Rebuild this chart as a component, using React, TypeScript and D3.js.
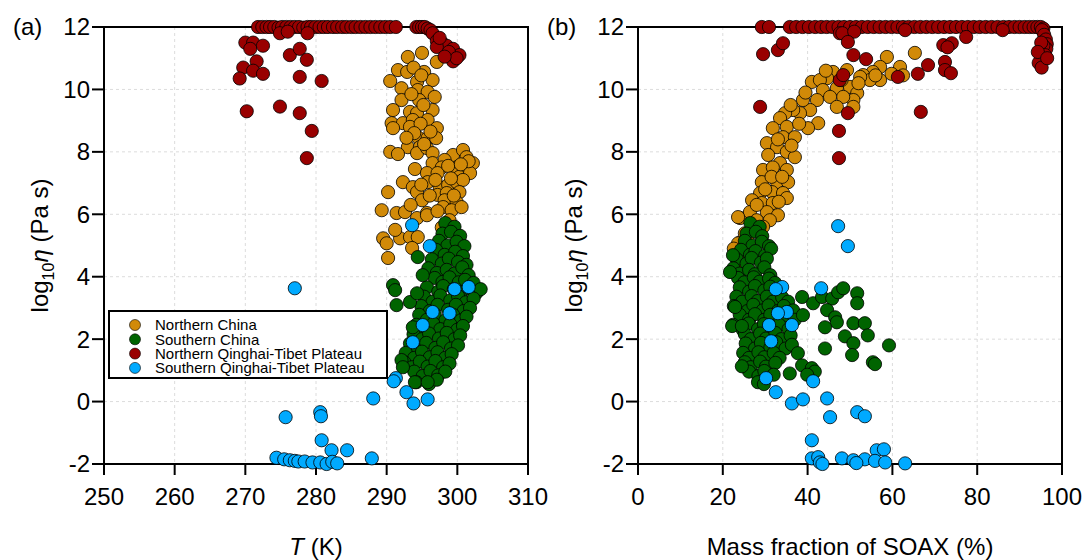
import React from "react";
import * as d3 from "d3";

// Series colours, in legend order
const seriesNames = [
  "Northern China",
  "Southern China",
  "Northern Qinghai-Tibet Plateau",
  "Southern Qinghai-Tibet Plateau",
];
const seriesColors = ["#d18a08", "#006400", "#990000", "#00aaff"];

const yTicks = [-2, 0, 2, 4, 6, 8, 10, 12];
const tTicks = [250, 260, 270, 280, 290, 300, 310];
const soaxTicks = [0, 20, 40, 60, 80, 100];

type Pt = [number, number];

// ---------- panel (a): T (K) vs log10 eta ----------
const northChinaT: Pt[] = [
  [293, 11.04], [295, 11.17], [297.1, 10.88], [291.6, 10.62], [290.5, 10.27], [292.9, 10.56],
  [295.3, 10.56], [296.5, 10.3], [294.3, 10.24], [292.1, 10.04], [294.4, 9.98], [295.8, 9.92],
  [296.8, 9.76], [292.1, 9.66], [294.6, 9.66], [290.9, 9.34], [293.3, 9.28], [294.3, 9.24],
  [296.5, 9.34], [290.7, 8.92], [292.3, 8.92], [293.7, 9.02], [295.8, 9.02], [290.9, 8.76],
  [293.3, 8.8], [297.1, 8.76], [294.4, 8.47], [295.8, 8.44], [297, 8.44], [293, 8.15],
  [294.7, 8.15], [290.5, 8], [291.6, 7.93], [294.3, 7.96], [295.7, 8.12], [296.5, 7.96],
  [299.4, 7.9], [300.8, 8.06], [302.2, 7.64], [301.3, 7.83], [299.9, 7.5], [301.1, 7.42],
  [300.3, 7.2], [301.8, 7.32], [294, 7.45], [296.5, 7.64], [298.2, 7.74], [297.8, 7.5],
  [295.7, 7.32], [297.2, 7.32], [292.3, 7.03], [293.7, 6.87], [295.8, 7.03], [297.5, 6.87],
  [298.7, 6.94], [299.9, 7.03], [300.8, 7.1], [290.2, 6.71], [294.3, 6.71], [297.2, 6.62],
  [298.5, 6.68], [300.3, 6.71], [295, 6.45], [298.2, 6.45], [299.9, 6.39], [289.3, 6.13],
  [291.4, 6.04], [292.6, 6.07], [294.3, 5.88], [295.7, 6.04], [298, 6.23], [299.2, 6.13],
  [300.6, 6.23], [298.9, 5.81], [289.5, 5.23], [290, 5.07], [291.9, 5.23], [293.3, 5.27],
  [294.4, 5.27], [293.6, 4.92], [290.2, 4.6], [297.8, 5.58], [295.7, 5.97], [293.8, 10.7],
  [294.9, 10.45], [293.5, 9.85], [295.2, 9.5], [294.8, 8.9], [296.2, 8.65], [293.9, 8.6],
  [292.8, 8.45], [295.3, 8.25], [298.7, 7.55], [299.1, 7.15], [301.6, 7.7], [300.5, 7.6],
  [296.9, 7.1], [294.9, 6.95], [296.1, 6.6], [299.5, 6.6], [297.2, 6.1], [293.4, 6.3],
  [291.2, 5.5],
];

const southChinaT: Pt[] = [
  [298.3, 5.72], [299.6, 5.6], [297.9, 5.38], [299.1, 5.44], [300.4, 5.31],
  [297.4, 5.15], [298.6, 5.0], [299.9, 5.12], [301.0, 4.98],
  [297.0, 4.86], [298.2, 4.7], [299.7, 4.8], [300.8, 4.66],
  [296.4, 4.56], [297.8, 4.42], [298.8, 4.58], [300.1, 4.47], [301.3, 4.38],
  [295.9, 4.27], [297.1, 4.12], [298.5, 4.22], [299.6, 4.1], [300.7, 4.3], [301.6, 4.05],
  [296.8, 3.96], [297.9, 3.83], [298.9, 3.98], [300.2, 3.82], [301.1, 3.9], [302.3, 3.8],
  [295.7, 3.66], [297.3, 3.52], [298.0, 3.7], [299.5, 3.6], [300.5, 3.5], [301.7, 3.62], [302.7, 3.48], [303.3, 3.6],
  [295.3, 3.36], [296.5, 3.2], [297.6, 3.4], [299.0, 3.24], [300.1, 3.38], [301.2, 3.18], [302.3, 3.3],
  [294.9, 3.06], [296.1, 2.9], [297.2, 3.1], [298.7, 2.94], [299.8, 3.1], [300.9, 2.9], [301.8, 3.0],
  [294.6, 2.78], [295.7, 2.62], [296.8, 2.8], [298.3, 2.6], [299.4, 2.78], [300.5, 2.6], [301.3, 2.72],
  [294.2, 2.46], [295.4, 2.3], [296.6, 2.5], [297.6, 2.32], [299.0, 2.48], [300.0, 2.3], [300.8, 2.42],
  [293.8, 2.16], [295.0, 2.0], [296.0, 2.18], [297.4, 2.02], [298.5, 2.2], [299.6, 2.0], [300.4, 2.12],
  [293.3, 1.86], [294.4, 1.7], [295.6, 1.88], [296.9, 1.72], [298.0, 1.9], [299.1, 1.7], [300.1, 1.8],
  [292.7, 1.56], [293.9, 1.4], [295.0, 1.6], [296.1, 1.42], [297.2, 1.58], [298.3, 1.4], [299.2, 1.52],
  [292.5, 1.26], [293.6, 1.1], [294.7, 1.28], [295.8, 1.12], [296.9, 1.3], [298.0, 1.1], [298.9, 1.22],
  [293.9, 0.96], [295.1, 0.82], [296.2, 0.98], [297.3, 0.84], [298.3, 0.96],
  [294.2, 0.62], [296.0, 0.56], [297.1, 0.7],
  [290.9, 3.73], [291.2, 3.57], [291.4, 3.09], [293.3, 3.19], [294.3, 3.47], [294.4, 4.63],
  [295.1, 4.05], [292.1, 1.33], [292.3, 1.1], [294, 0.62], [295.8, 0.62], [293.7, 2.38],
];

const northQtpT: Pt[] = [
  [271.8, 12], [272.4, 12], [273, 12], [273.5, 12], [274.1, 12], [274.7, 11.98], [275.2, 12],
  [275.8, 12], [276.4, 12], [277, 12], [277.6, 12], [278.2, 11.98], [278.8, 12], [279.3, 12],
  [279.9, 12], [280.5, 12], [281.1, 12], [281.7, 12], [282.4, 12], [283, 12], [283.7, 12],
  [284.3, 12], [285, 12], [285.6, 12], [286.3, 12], [287, 12], [287.7, 12], [288.4, 12],
  [289.1, 12], [289.8, 12], [290.5, 12], [291.3, 12], [294.2, 12], [294.6, 12], [295, 12],
  [295.4, 12], [295.8, 11.95], [296.2, 11.9],
  [274.9, 11.8], [278.8, 11.8], [276, 11.85],
  [296.5, 11.8], [297.1, 11.55], [297.8, 11.5], [298.5, 11.4], [299.4, 11.3], [300.3, 11.1],
  [299.4, 10.9], [297.1, 11.36], [298.8, 11.2], [299.9, 11.0], [297.5, 11.65], [298.2, 11.05],
  [270, 11.5], [271.1, 11.5], [270.7, 11.3], [272.5, 11.4], [269.7, 10.7], [271.6, 10.9],
  [271.1, 10.6], [272.5, 10.5], [269.2, 10.35], [270.2, 9.3], [274.9, 9.45], [277.7, 9.24],
  [276.3, 11.1], [277.7, 11.3], [278.7, 10.95], [277.7, 10.4], [280.8, 10.27], [279.4, 8.67],
  [278.7, 7.8],
];

const southQtpT: Pt[] = [
  [293.6, 5.65], [296.1, 4.98], [277, 3.63], [299.6, 3.6], [301.6, 3.67], [296.5, 2.87],
  [298.9, 2.83], [295.1, 2.45], [293.7, 1.9], [291.3, 0.75], [291, 0.65], [292.8, 0.3],
  [293.8, -0.06], [295.8, 0.07], [288.1, 0.1], [275.7, -0.5], [280.6, -0.34], [280.7, -0.47],
  [280.8, -1.24], [282.2, -1.56], [284.4, -1.56], [287.9, -1.82], [274.4, -1.8], [275.5, -1.85],
  [276.3, -1.88], [277, -1.9], [277.5, -1.92], [278.4, -1.92], [279.5, -1.95], [280.6, -1.95],
  [281.5, -2.0], [282.3, -1.93], [283, -1.98],
];

// ---------- panel (b): mass fraction of SOAX (%) vs log10 eta ----------
const northChinaS: Pt[] = [
  [65.3, 11.17], [58.7, 11.04], [61.8, 10.72], [57.1, 10.72], [55.4, 10.56], [53.1, 10.46],
  [57.1, 10.3], [54.7, 10.3], [52.4, 10.4], [49.3, 10.62], [46, 10.56], [44.6, 10.36],
  [41, 10.24], [42.9, 10.3], [43.6, 9.98], [46.9, 10.04], [50, 10.08], [51.7, 9.88],
  [50.8, 9.66], [50.8, 9.44], [48.4, 9.76], [45.3, 9.76], [46.9, 9.44], [42.2, 9.66],
  [40.6, 9.34], [38.9, 9.66], [38.2, 9.24], [42.5, 8.92], [40.1, 8.76], [36.6, 9.34],
  [34.7, 9.24], [33.5, 9.08], [35.1, 8.8], [31.8, 8.76], [34.2, 8.47], [37, 8.47],
  [30.4, 8.28], [32.8, 8.15], [35.1, 8], [37, 7.83], [30.7, 7.9], [33.5, 7.64],
  [29.5, 7.42], [31.8, 7.5], [35.1, 7.42], [29.2, 7.03], [32.8, 7.03], [35.4, 7.03],
  [28.8, 6.68], [31.6, 6.71], [34.2, 6.68], [35.1, 6.52], [26.9, 6.45], [29.2, 6.36],
  [31.8, 6.36], [24.1, 5.88], [26.4, 6.07], [30.4, 6.07], [33, 5.97], [28, 5.81],
  [31.1, 5.81], [24.1, 5.1], [26.4, 5.39], [23.6, 5.91], [23.6, 5.07], [25.2, 5.39],
  [26, 4.85], [25.2, 4.6], [24, 4.3], [22.6, 4.9], [36, 9.5], [39.5, 9.9],
  [44.3, 10.6], [48, 10.3], [52, 10.2], [56, 10.45], [59.8, 10.5], [62.5, 10.45],
  [38, 8.9], [33, 8.4], [36.2, 8.2], [31.5, 7.2], [34, 7.2], [30, 6.8],
  [28, 6.3], [33.2, 6.4], [27.8, 5.5], [29.5, 5.6],
];

const southChinaS: Pt[] = [
  [26.5, 5.72], [28.7, 5.6], [25.6, 5.38], [27.8, 5.44], [29.3, 5.3],
  [25.2, 5.15], [27.0, 5.0], [29.2, 5.12], [30.9, 4.98],
  [24.3, 4.86], [26.4, 4.7], [27.7, 4.82], [30.0, 4.68], [31.4, 4.9],
  [23.3, 4.56], [25.6, 4.42], [26.8, 4.6], [29.0, 4.45], [30.4, 4.58],
  [22.5, 4.27], [24.0, 4.1], [26.2, 4.22], [27.6, 4.08], [29.8, 4.3], [31.2, 4.05],
  [23.6, 3.96], [25.1, 3.82], [27.3, 3.98], [28.7, 3.84], [30.9, 3.94], [32.3, 3.8],
  [24.0, 3.66], [26.2, 3.52], [27.6, 3.7], [29.8, 3.56], [31.2, 3.68], [33.4, 3.5],
  [23.2, 3.36], [24.6, 3.2], [26.8, 3.38], [28.2, 3.22], [30.4, 3.36], [31.8, 3.2], [34.0, 3.34], [35.4, 3.2],
  [22.6, 3.06], [25.8, 2.9], [27.2, 3.1], [29.4, 2.92], [30.8, 3.08], [33.0, 2.9], [34.4, 3.06], [36.6, 2.92],
  [24.0, 2.78], [26.2, 2.62], [27.6, 2.8], [29.8, 2.62], [31.2, 2.78], [33.4, 2.6], [34.8, 2.76], [37.0, 2.62],
  [22.4, 2.46], [24.7, 2.3], [26.1, 2.5], [28.3, 2.32], [29.7, 2.48], [31.9, 2.3], [33.3, 2.46], [35.5, 2.32],
  [25.2, 2.16], [26.6, 2.0], [28.8, 2.18], [30.2, 2.02], [32.4, 2.2], [33.8, 2.0], [36.0, 2.12],
  [25.4, 1.86], [27.6, 1.7], [29.0, 1.88], [31.2, 1.72], [32.6, 1.9], [34.8, 1.7], [36.3, 1.82],
  [24.8, 1.56], [26.2, 1.4], [28.4, 1.58], [29.8, 1.42], [32.0, 1.56], [33.4, 1.4],
  [25.2, 1.26], [26.6, 1.1], [28.8, 1.28], [30.2, 1.12], [32.4, 1.24],
  [26.2, 0.96], [28.4, 0.82], [29.8, 0.98], [32.0, 0.86],
  [28.3, 0.62], [29.7, 0.56],
  [38.7, 3.35], [41.3, 3.15], [43.4, 3.35], [45.8, 3.3], [47.2, 3.5], [48.4, 3.63],
  [51.7, 3.47], [51.7, 3.15], [44.6, 2.93], [46.5, 2.7], [46.9, 2.54], [44.1, 2.38],
  [38.9, 2.77], [50.8, 2.51], [53.5, 2.51], [48.8, 2.09], [50.8, 1.87], [54.2, 2.12],
  [44.1, 1.7], [50.5, 1.49], [55.4, 1.26], [55.9, 1.2], [59.2, 1.8], [37.7, 1.55],
  [38.7, 1.16], [41, 1.07], [41.7, 0.96], [39.9, 0.86], [35.8, 0.9],
  [21.7, 4.15], [22.4, 4.69], [22.9, 3.03], [22.2, 2.42], [24.5, 2.42], [24.5, 1.13],
];

const northQtpS: Pt[] = [
  [29.2, 12], [30.9, 12], [35.8, 12], [37.3, 12], [38.8, 12], [40.3, 12], [41.8, 12],
  [43.2, 12], [44.5, 12], [45.9, 12], [47.3, 12], [48.6, 12], [50, 12], [51.4, 12],
  [52.8, 12], [54.2, 12], [55.6, 12], [57, 12], [58.4, 12], [59.8, 12], [61.2, 12],
  [62.5, 12], [63.8, 12], [65.2, 12], [66.6, 12], [68, 12], [69.4, 12], [70.8, 12],
  [72.2, 12], [73.6, 12], [75, 12], [76.4, 12], [77.8, 12], [79.2, 12], [80.6, 12],
  [82, 12], [83.4, 12], [84.8, 12], [86.2, 12], [87.5, 12], [88.8, 12], [90, 12],
  [91.2, 12], [92.3, 12], [93.3, 12], [94.2, 12], [95, 12], [95.6, 11.95],
  [47.6, 11.8], [77.4, 11.68], [48.2, 11.8], [51, 11.85], [63, 11.9], [86, 11.9],
  [29.5, 11.13], [33, 11.26], [34.2, 11.48], [28.8, 9.44], [47.6, 10.3], [48.4, 10.46],
  [49.5, 9.24], [47.4, 8.67], [47.4, 7.8], [49.5, 11.52], [50.8, 11.1], [53.8, 10.97],
  [61.3, 10.4], [66, 10.5], [68.4, 10.78], [66.7, 9.28], [72, 11.42], [74, 11.48],
  [72.4, 10.88], [72.4, 10.62], [73.8, 10.52], [73, 11.35],
  [95.3, 11.9], [95.8, 11.75], [96.2, 11.6], [96.4, 11.45], [96.3, 11.3], [95.6, 11.4],
  [95.1, 11.5], [96, 11.1], [95.5, 10.95], [94.5, 10.85], [95.2, 10.7], [94.3, 11.2],
  [96.5, 11.0],
];

const southQtpS: Pt[] = [
  [47.2, 5.62], [49.5, 4.98], [34, 3.67], [32.5, 3.6], [43.2, 3.63], [35.1, 2.87],
  [33, 2.83], [36.3, 2.45], [30.9, 2.45], [31.4, 1.93], [30.2, 0.75], [41.3, 0.65],
  [32.5, 0.3], [36.3, -0.06], [38.9, 0.07], [44.6, 0.1], [45.3, -0.5], [51.7, -0.34],
  [53.5, -0.47], [41, -1.24], [41, -1.82], [42.5, -1.78], [42.9, -1.95], [48.1, -1.82],
  [50.8, -1.88], [53.5, -1.85], [56.3, -1.56], [58, -1.53], [55.9, -1.9], [58.3, -1.95],
  [63, -1.98], [51.5, -1.97], [43.5, -2.0],
];

const W = 1089;
const H = 560;
const TOP = 27;
const BOTTOM = 464;
const FONT = "'Liberation Sans', Arial, Helvetica, sans-serif";

const y = d3.scaleLinear().domain([-2, 12]).range([BOTTOM, TOP]);
const xT = d3.scaleLinear().domain([250, 310]).range([104, 528]);
const xS = d3.scaleLinear().domain([0, 100]).range([638, 1062]);

const Panel = ({ x, ticks, tag, title, series, legend }) => {
  const [x0, x1] = x.range();
  const cx = (x0 + x1) / 2;
  return (
    <g>
      {/* rejilla */}
      {ticks.slice(1, -1).map((t) => (
        <line key={"gx" + t} x1={x(t)} x2={x(t)} y1={TOP} y2={BOTTOM}
          stroke="#dcdcdc" strokeDasharray="3,3" />
      ))}
      {yTicks.slice(1, -1).map((t) => (
        <line key={"gy" + t} x1={x0} x2={x1} y1={y(t)} y2={y(t)}
          stroke="#dcdcdc" strokeDasharray="3,3" />
      ))}
      <rect x={x0} y={TOP} width={x1 - x0} height={BOTTOM - TOP}
        fill="none" stroke="#000" strokeWidth={2} />
      {/* ticks */}
      {ticks.map((t) => (
        <g key={"tx" + t}>
          <line x1={x(t)} x2={x(t)} y1={BOTTOM} y2={BOTTOM + 11} stroke="#000" strokeWidth={2} />
          <text x={x(t)} y={505} textAnchor="middle" fontSize={24}>{t}</text>
        </g>
      ))}
      {yTicks.map((t) => (
        <g key={"ty" + t}>
          <line x1={x0 - 12} x2={x0} y1={y(t)} y2={y(t)} stroke="#000" strokeWidth={2} />
          <text x={x0 - 14} y={y(t)} dy="0.35em" textAnchor="end" fontSize={24}>{t}</text>
        </g>
      ))}
      <text x={x0 - 91} y={y(12)} dy="0.35em" fontSize={24}>{tag}</text>
      <text transform={`translate(${x0 - 56},${(TOP + BOTTOM) / 2}) rotate(-90)`}
        textAnchor="middle" fontSize={24}>
        log<tspan fontSize={16} dy={6}>10</tspan>
        <tspan dy={-6} fontStyle="italic">η</tspan> (Pa s)
      </text>
      <text x={cx} y={555} textAnchor="middle" fontSize={24}>{title}</text>
      {/* puntos */}
      {series.map((pts, i) => (
        <g key={"s" + i}>
          {pts.map((d, j) => (
            <circle key={j} cx={x(d[0])} cy={y(d[1])} r={6.6}
              fill={seriesColors[i]} stroke="#000" strokeWidth={0.8} />
          ))}
        </g>
      ))}
      {legend && (
        <g>
          <rect x={109} y={311} width={278} height={67} fill="#fff" stroke="#000" strokeWidth={2} />
          {seriesNames.map((n, i) => (
            <g key={n}>
              <circle cx={135} cy={325 + i * 14.3} r={5.5} fill={seriesColors[i]}
                stroke="#000" strokeWidth={0.6} />
              <text x={155} y={325 + i * 14.3} dy="0.35em" fontSize={15}>{n}</text>
            </g>
          ))}
        </g>
      )}
    </g>
  );
};

export default function App() {
  return (
    <svg width={W} height={H} fontFamily={FONT}
      style={{ position: "absolute", left: 0, top: 0, background: "#fff" }}>
      <Panel x={xT} ticks={tTicks} tag="(a)"
        title={<><tspan fontStyle="italic">T</tspan> (K)</>}
        series={[northChinaT, southChinaT, northQtpT, southQtpT]} legend />
      <Panel x={xS} ticks={soaxTicks} tag="(b)"
        title="Mass fraction of SOAX (%)"
        series={[northChinaS, southChinaS, northQtpS, southQtpS]} legend={false} />
    </svg>
  );
}
